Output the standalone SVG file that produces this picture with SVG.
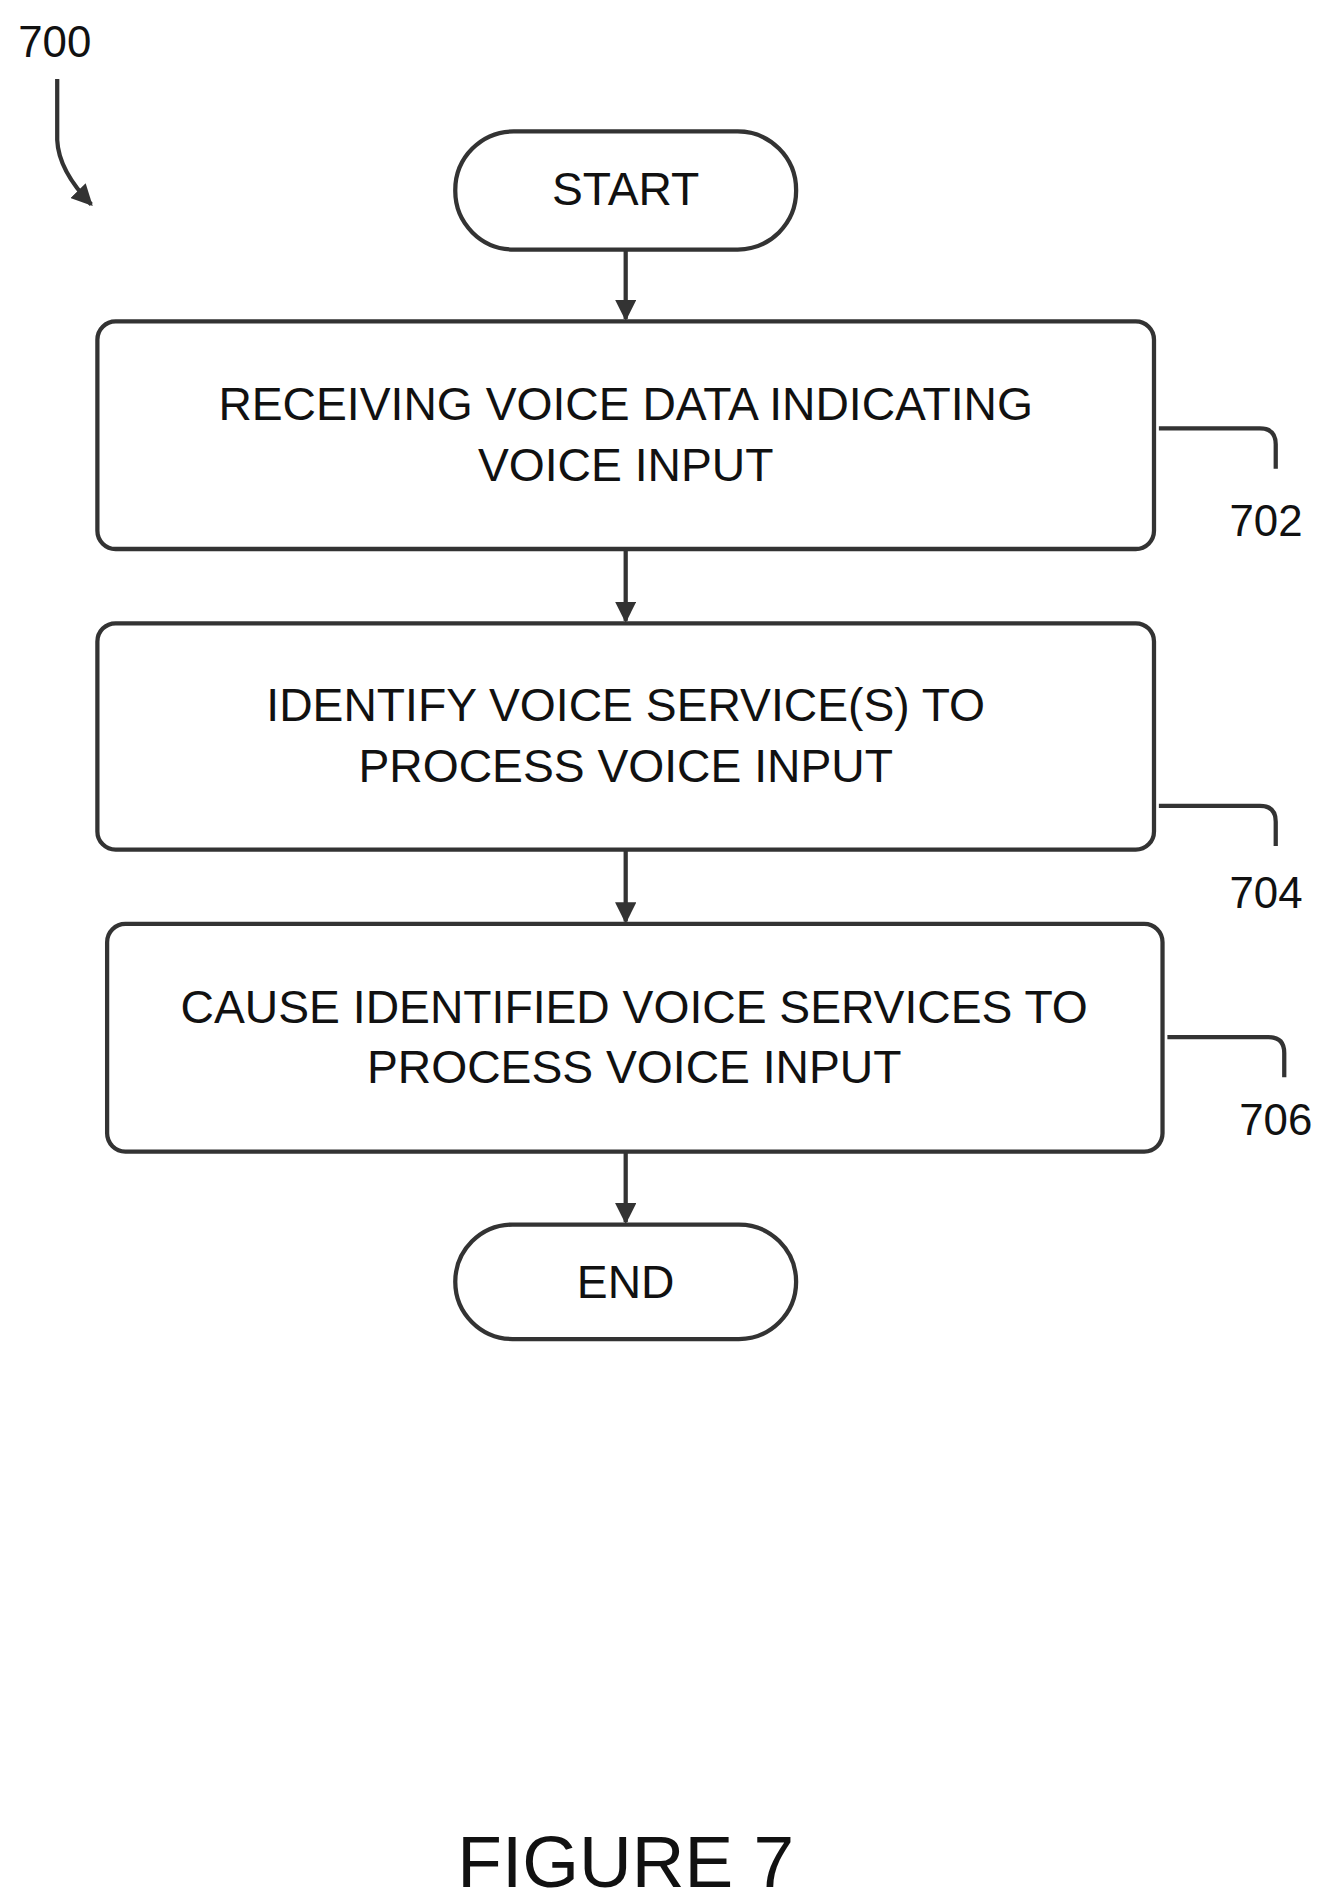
<svg xmlns="http://www.w3.org/2000/svg" width="1339" height="1904" viewBox="0 0 1339 1904">
<defs>
<style>
.s{fill:#fff;stroke:#333;stroke-width:3.5}
.t{font-family:"Liberation Sans",Arial,sans-serif;font-size:38px;fill:#111;text-anchor:middle}
.l{font-family:"Liberation Sans",Arial,sans-serif;font-size:36px;fill:#111}
.c{fill:none;stroke:#333;stroke-width:3.5}
</style>
<marker id="a" viewBox="0 0 10 10" refX="9" refY="5" markerWidth="5" markerHeight="5" orient="auto"><path d="M0,0L10,5L0,10z" fill="#333"/></marker>
</defs>
<rect width="1339" height="1904" fill="#fff"/>
<g transform="scale(1.2173)">
<g id="label700"><text class="l" x="15" y="47">700</text></g>
<g id="connectors">
<path class="c" d="M47,65 V115 Q48,140 75,168" marker-end="url(#a)"/>
<path class="c" d="M514,205 V262" marker-end="url(#a)"/>
<path class="c" d="M514,451 V510" marker-end="url(#a)"/>
<path class="c" d="M514,698 V757" marker-end="url(#a)"/>
<path class="c" d="M514,946 V1004" marker-end="url(#a)"/>
<path class="c" d="M952,352 H1035 Q1048,352 1048,365 V385"/>
<path class="c" d="M952,662 H1035 Q1048,662 1048,675 V695"/>
<path class="c" d="M959,852 H1042 Q1055,852 1055,865 V885"/>
</g>
<g id="start"><rect class="s" x="374" y="108" width="280" height="97" rx="48"/><text class="t" x="514" y="168">START</text></g>
<g id="n702"><rect class="s" x="80" y="264" width="868" height="187" rx="15"/><text class="t" x="514" y="345">RECEIVING VOICE DATA INDICATING</text><text class="t" x="514" y="395">VOICE INPUT</text><text class="l" x="1010" y="440">702</text></g>
<g id="n704"><rect class="s" x="80" y="512" width="868" height="186" rx="15"/><text class="t" x="514" y="592">IDENTIFY VOICE SERVICE(S) TO</text><text class="t" x="514" y="642">PROCESS VOICE INPUT</text><text class="l" x="1010" y="746">704</text></g>
<g id="n706"><rect class="s" x="88" y="759" width="867" height="187" rx="15"/><text class="t" x="521" y="840">CAUSE IDENTIFIED VOICE SERVICES TO</text><text class="t" x="521" y="890">PROCESS VOICE INPUT</text><text class="l" x="1018" y="932">706</text></g>
<g id="end"><rect class="s" x="374" y="1006" width="280" height="94" rx="47"/><text class="t" x="514" y="1066">END</text></g>
<text class="t" x="514" y="1550" style="font-size:60px">FIGURE 7</text>
</g>
</svg>
